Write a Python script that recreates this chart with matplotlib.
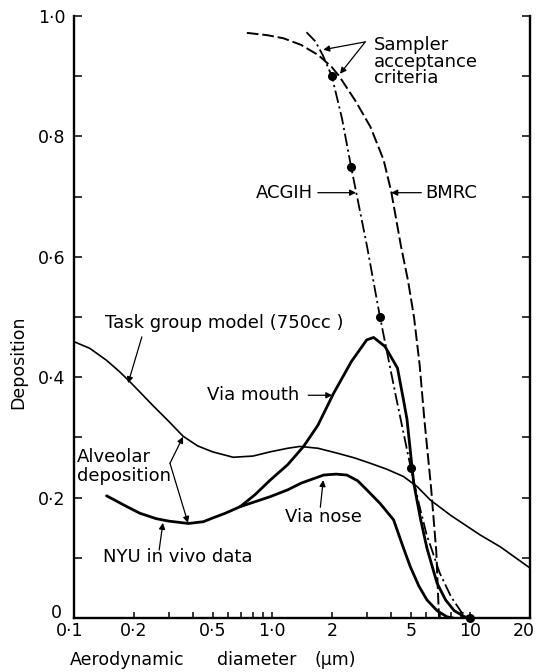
import matplotlib
matplotlib.use('Agg')
import matplotlib.pyplot as plt
import matplotlib.transforms as mtransforms
from matplotlib.ticker import FixedLocator, FixedFormatter, NullFormatter

plt.rcParams['font.family'] = ['DejaVu Sans']

# Task group model (750cc), alveolar deposition
task_x = [0.1, 0.12, 0.146, 0.17, 0.192, 0.22, 0.25, 0.3, 0.355, 0.42, 0.5, 0.636, 0.8, 0.977,
          1.2, 1.38, 1.7, 2.12, 2.6, 3.13, 3.8, 4.6, 5.4, 6.28, 8.0, 11.2, 14.2, 20]
task_y = [0.459, 0.448, 0.428, 0.409, 0.392, 0.372, 0.353, 0.327, 0.302, 0.286, 0.276, 0.267, 0.269, 0.276,
          0.282, 0.285, 0.282, 0.274, 0.266, 0.257, 0.247, 0.235, 0.218, 0.196, 0.17, 0.138, 0.118, 0.083]

# NYU in vivo data: common part, then via nose / via mouth
nyu_x = [0.146, 0.18, 0.215, 0.26, 0.3, 0.378, 0.45, 0.5, 0.58, 0.69]
nyu_y = [0.203, 0.187, 0.174, 0.165, 0.161, 0.157, 0.16, 0.166, 0.174, 0.185]
nose_x = [0.69, 0.977, 1.2, 1.4, 1.82, 2.1, 2.38, 2.7, 3.0, 3.51, 4.1, 4.6, 4.98, 5.5, 6.04, 6.8, 7.62, 8.2]
nose_y = [0.185, 0.2015, 0.213, 0.224, 0.2375, 0.239, 0.2375, 0.228, 0.213, 0.19, 0.163, 0.116, 0.085, 0.053,
          0.03, 0.012, 0.002, 0.0]
mouth_x = [0.69, 0.82, 0.977, 1.2, 1.44, 1.7, 2.04, 2.51, 3.0, 3.25, 3.71, 4.29, 4.6, 4.79, 5.18, 5.6, 6.04,
           6.79, 7.5, 8.3, 9.6]
mouth_y = [0.185, 0.205, 0.229, 0.255, 0.285, 0.32, 0.373, 0.426, 0.462, 0.466, 0.451, 0.415, 0.362, 0.33,
           0.224, 0.165, 0.116, 0.058, 0.03, 0.012, 0.0]

# sampler acceptance criteria
acgih_x = [1.49, 1.65, 1.8, 2.0, 2.25, 2.5, 3.0, 3.5, 4.2, 5.0, 5.5, 6.0, 7.0, 8.0, 9.0, 10.0]
acgih_y = [0.973, 0.958, 0.935, 0.9, 0.83, 0.75, 0.62, 0.5, 0.37, 0.25, 0.19, 0.14, 0.075, 0.035, 0.01, 0.0]
acgih_pts_x = [2.0, 2.5, 3.5, 5.0, 10.0]
acgih_pts_y = [0.9, 0.75, 0.5, 0.25, 0.0]
bmrc_x = [0.745, 0.95, 1.14, 1.4, 1.71, 2.0, 2.18, 2.62, 3.13, 3.65, 3.99, 4.47, 4.85, 5.2, 5.55, 5.86,
          6.33, 6.73, 6.95]
bmrc_y = [0.972, 0.968, 0.963, 0.952, 0.935, 0.915, 0.9, 0.86, 0.816, 0.761, 0.708, 0.617, 0.56, 0.499,
          0.42, 0.33, 0.218, 0.111, 0.0]

xticks = [0.1, 0.2, 0.5, 1.0, 2, 5, 10, 20]
xticklabels = ['0·1', '0·2', '0·5', '1·0', '2', '5', '10', '20']
xminor = [0.3, 0.4, 0.6, 0.7, 0.8, 0.9, 3, 4, 6, 7, 8, 9]
yticks = [0, 0.2, 0.4, 0.6, 0.8, 1.0]
yticklabels = ['0', '0·2', '0·4', '0·6', '0·8', '1·0']
yminor = [0.1, 0.3, 0.5, 0.7, 0.9]

fig = plt.figure(figsize=(5.36, 6.72), dpi=100)
ax = fig.add_axes([74 / 536, 54 / 672, 456 / 536, 602 / 672])
ax.set_xscale('log')
ax.set_xlim(0.1, 20)
ax.set_ylim(0, 1.0)

ax.plot(task_x, task_y, color='black', lw=1.2)
ax.plot(nyu_x, nyu_y, color='black', lw=2.0, solid_capstyle='round')
ax.plot(nose_x, nose_y, color='black', lw=2.0, solid_capstyle='round')
ax.plot(mouth_x, mouth_y, color='black', lw=2.0, solid_capstyle='round')
ax.plot(acgih_x, acgih_y, color='black', lw=1.3, dashes=(7, 2, 1.2, 2))
ax.plot(acgih_pts_x, acgih_pts_y, 'o', color='black', ms=5.5, clip_on=False)
ax.plot(bmrc_x, bmrc_y, color='black', lw=1.4, dashes=(6, 2))

for s in ['left', 'right', 'bottom']:
    ax.spines[s].set_linewidth(1.7)
ax.spines['top'].set_visible(False)

ax.xaxis.set_major_locator(FixedLocator(xticks))
ax.xaxis.set_major_formatter(FixedFormatter(xticklabels))
ax.xaxis.set_minor_locator(FixedLocator(xminor))
ax.xaxis.set_minor_formatter(NullFormatter())
ax.yaxis.set_major_locator(FixedLocator(yticks))
ax.yaxis.set_major_formatter(FixedFormatter(yticklabels))
ax.yaxis.set_minor_locator(FixedLocator(yminor))
ax.tick_params(axis='x', which='both', direction='in', width=1.1, length=4)
ax.tick_params(axis='y', which='both', direction='in', width=1.1, length=6, right=True)
ax.tick_params(axis='x', which='major', labelsize=12.5, pad=3)
ax.tick_params(axis='y', which='major', labelsize=12.5, pad=6)


def nudge(label, dx, dy):
    label.set_transform(label.get_transform() +
                        mtransforms.ScaledTranslation(dx / 100, dy / 100, fig.dpi_scale_trans))


# keep the corner labels apart and the "20" inside the figure
nudge(ax.get_xticklabels()[-1], -6, 0)
nudge(ax.get_xticklabels()[0], -4, 0)
nudge(ax.get_yticklabels()[0], -4, 7)

fs = 13
arrow = dict(arrowstyle='-|>', color='black', lw=0.9, mutation_scale=9, shrinkA=0, shrinkB=0)

ax.text(3.27, 0.924, 'Sampler\nacceptance\ncriteria', fontsize=fs, va='center', ha='left', linespacing=0.88)
ax.annotate('', xy=(1.81, 0.944), xytext=(2.95, 0.957), arrowprops=arrow)
ax.annotate('', xy=(2.2, 0.904), xytext=(2.95, 0.957), arrowprops=arrow)

ax.text(1.61, 0.7065, 'ACGIH', fontsize=fs, va='center', ha='right')
ax.annotate('', xy=(2.65, 0.7065), xytext=(1.70, 0.7065), arrowprops=arrow)
ax.text(5.93, 0.7065, 'BMRC', fontsize=fs, va='center', ha='left')
ax.annotate('', xy=(3.99, 0.7065), xytext=(5.66, 0.7065), arrowprops=arrow)

ax.text(0.1435, 0.49, 'Task group model (750cc )', fontsize=fs, va='center', ha='left')
ax.annotate('', xy=(0.1875, 0.39), xytext=(0.22, 0.467), arrowprops=arrow)

ax.text(0.47, 0.37, 'Via mouth', fontsize=fs, va='center', ha='left')
ax.annotate('', xy=(2.01, 0.37), xytext=(1.52, 0.37), arrowprops=arrow)

ax.text(0.1035, 0.251, 'Alveolar\ndeposition', fontsize=fs, va='center', ha='left', linespacing=1.06)
ax.annotate('', xy=(0.355, 0.301), xytext=(0.305, 0.257), arrowprops=arrow)
ax.annotate('', xy=(0.376, 0.158), xytext=(0.305, 0.257), arrowprops=arrow)

ax.text(0.14, 0.101, 'NYU in vivo data', fontsize=fs, va='center', ha='left')
ax.annotate('', xy=(0.281, 0.158), xytext=(0.269, 0.113), arrowprops=arrow)

ax.text(1.16, 0.168, 'Via nose', fontsize=fs, va='center', ha='left')
ax.annotate('', xy=(1.81, 0.229), xytext=(1.75, 0.184), arrowprops=arrow)

fig.text(18 / 536, 1 - 362 / 672, 'Deposition', rotation=90, fontsize=12.5, ha='center', va='center')
fig.text(70 / 536, 1 - 660 / 672, 'Aerodynamic', fontsize=12.5, ha='left', va='center')
fig.text(217 / 536, 1 - 660 / 672, 'diameter', fontsize=12.5, ha='left', va='center')
fig.text(315 / 536, 1 - 660 / 672, '(µm)', fontsize=12.5, ha='left', va='center')

fig.savefig('out.png', dpi=100)
